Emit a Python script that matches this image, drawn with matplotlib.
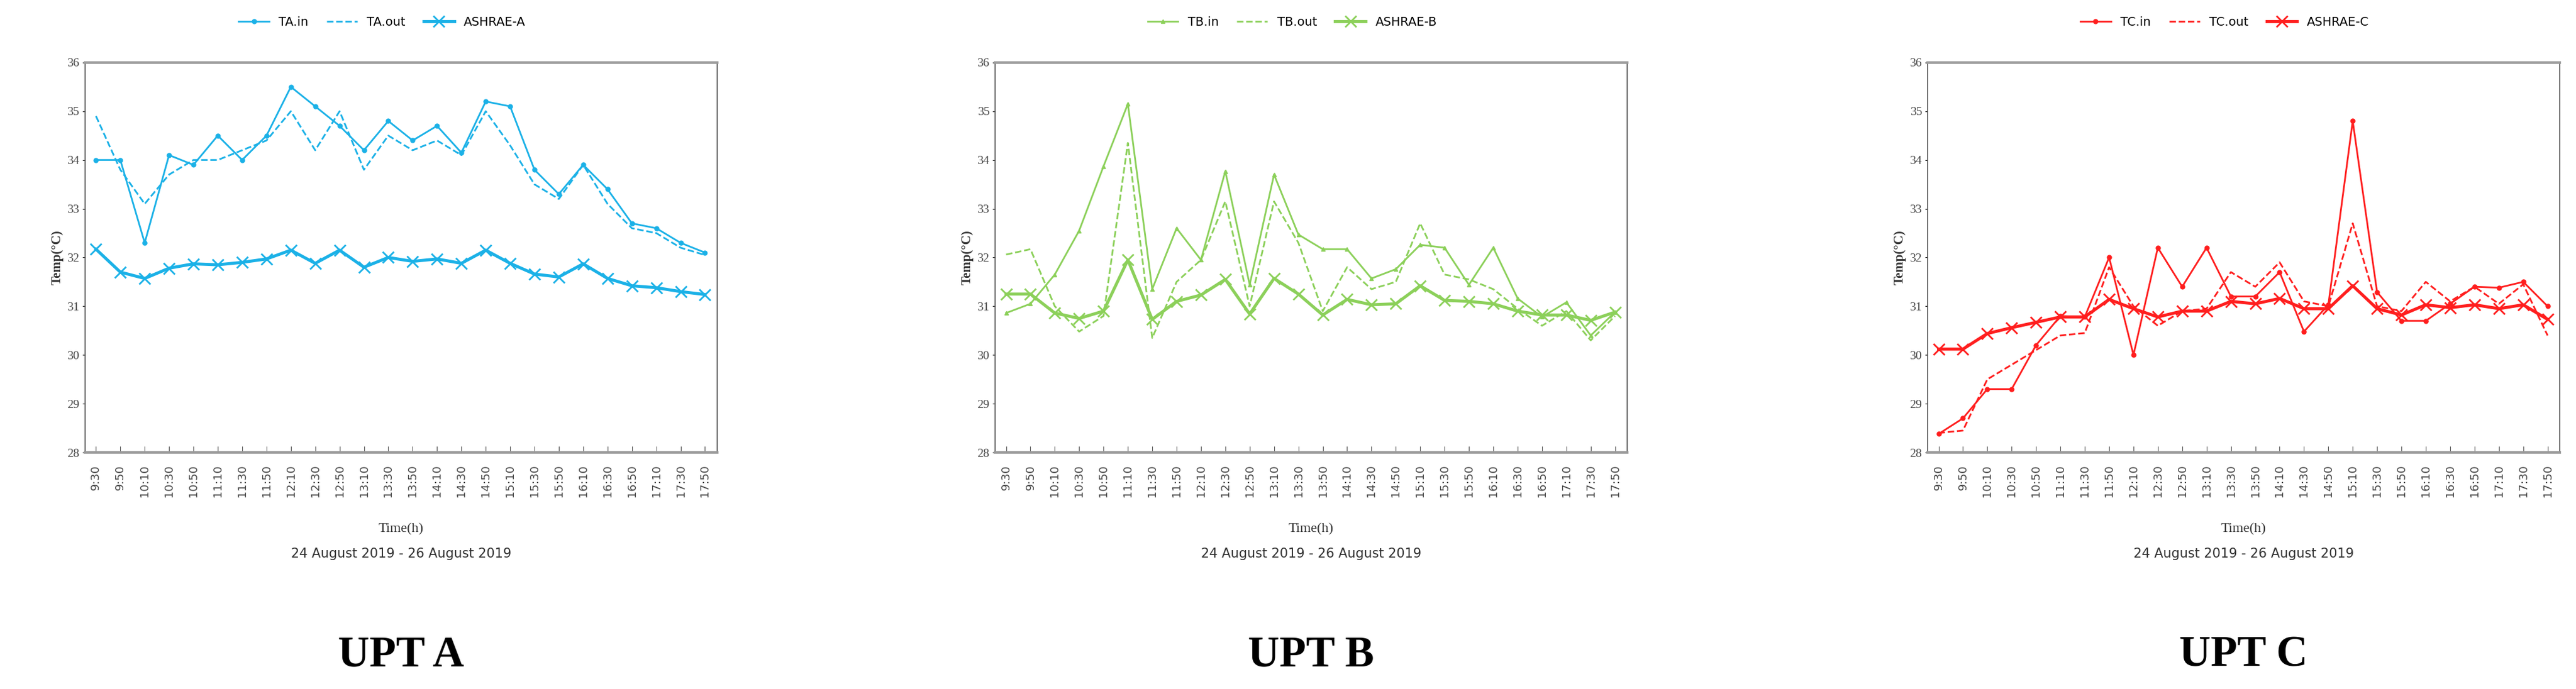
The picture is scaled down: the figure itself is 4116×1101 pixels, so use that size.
import numpy as np
from matplotlib import pyplot as plt

# horas de medida (cada 20 min)
times = ['9:30', '9:50', '10:10', '10:30', '10:50', '11:10', '11:30', '11:50', '12:10',
         '12:30', '12:50', '13:10', '13:30', '13:50', '14:10', '14:30', '14:50', '15:10',
         '15:30', '15:50', '16:10', '16:30', '16:50', '17:10', '17:30', '17:50']

ta_in = [34.0, 34.0, 32.3, 34.1, 33.9, 34.5, 34.0, 34.5, 35.5, 35.1, 34.7, 34.2, 34.8,
         34.4, 34.7, 34.15, 35.2, 35.1, 33.8, 33.3, 33.9, 33.4, 32.7, 32.6, 32.3, 32.1]
ta_out = [34.9, 33.8, 33.1, 33.7, 34.0, 34.0, 34.2, 34.4, 35.0, 34.2, 35.0, 33.8, 34.5,
          34.2, 34.4, 34.1, 35.0, 34.3, 33.5, 33.2, 33.9, 33.1, 32.6, 32.5, 32.2, 32.05]
ashrae_a = [32.17, 31.7, 31.57, 31.78, 31.87, 31.85, 31.9, 31.97, 32.15, 31.88, 32.15, 31.8, 32.0,
            31.92, 31.97, 31.88, 32.15, 31.88, 31.66, 31.6, 31.87, 31.57, 31.42, 31.38, 31.3, 31.24]

tb_in = [30.86, 31.05, 31.65, 32.55, 33.87, 35.15, 31.35, 32.6, 31.95, 33.77, 31.44, 33.7, 32.47,
         32.17, 32.17, 31.57, 31.76, 32.26, 32.2, 31.44, 32.2, 31.16, 30.78, 31.08, 30.4, 30.88]
tb_out = [32.06, 32.17, 31.0, 30.48, 30.8, 34.35, 30.35, 31.5, 31.95, 33.15, 31.0, 33.15, 32.3,
          30.9, 31.8, 31.35, 31.5, 32.7, 31.65, 31.55, 31.35, 30.95, 30.6, 30.9, 30.3, 30.8]
ashrae_b = [31.25, 31.25, 30.86, 30.75, 30.9, 31.95, 30.73, 31.1, 31.23, 31.55, 30.84, 31.57, 31.25,
            30.82, 31.14, 31.03, 31.05, 31.42, 31.12, 31.1, 31.05, 30.9, 30.82, 30.82, 30.71, 30.88]

tc_in = [28.38, 28.7, 29.3, 29.3, 30.2, 30.8, 30.78, 32.0, 30.0, 32.2, 31.4, 32.2, 31.2,
         31.2, 31.7, 30.48, 31.03, 34.8, 31.29, 30.7, 30.7, 31.05, 31.4, 31.38, 31.5, 31.0]
tc_out = [28.4, 28.45, 29.5, 29.8, 30.1, 30.4, 30.45, 31.8, 31.0, 30.6, 30.9, 30.95, 31.7,
          31.4, 31.9, 31.1, 31.0, 32.7, 31.0, 30.9, 31.5, 31.1, 31.4, 31.05, 31.45, 30.4]
ashrae_c = [30.12, 30.12, 30.44, 30.56, 30.67, 30.78, 30.78, 31.14, 30.95, 30.78, 30.9, 30.9, 31.1,
            31.05, 31.16, 30.95, 30.95, 31.42, 30.95, 30.82, 31.03, 30.97, 31.03, 30.95, 31.03, 30.73]

panels = [
    ('A', '#1BB1E7', 'o', ta_in, ta_out, ashrae_a, 0.033),
    ('B', '#8CD05A', '^', tb_in, tb_out, ashrae_b, 0.3863),
    ('C', '#FF1E1E', 'o', tc_in, tc_out, ashrae_c, 0.7483),
]

fig = plt.figure(figsize=(41.16, 11.01), dpi=100)
x = np.arange(len(times))

for name, col, mk, t_in, t_out, ash, left in panels:
    ax = fig.add_axes([left, 0.3433, 0.2454, 0.566])
    ax.plot(x, t_in, color=col, lw=2, marker=mk, ms=5, label='T%s.in' % name)
    ax.plot(x, t_out, color=col, lw=2, ls='--', label='T%s.out' % name)
    ax.plot(x, ash, color=col, lw=3.5, marker='x', ms=13, mew=2, label='ASHRAE-%s' % name)
    ax.set_xlim(-0.45, 25.5)
    ax.set_ylim(28, 36)
    ax.set_yticks(range(28, 37))
    ax.tick_params(axis='y', labelsize=14, length=3, direction='out', labelcolor='#444444')
    for lab in ax.get_yticklabels():
        lab.set_family('Liberation Serif')
    ax.set_xticks(x)
    ax.set_xticklabels(times, rotation=90, fontsize=13, color='#444444')
    ax.tick_params(axis='x', direction='in', length=7, color='#555555', pad=14)
    for s in ['top', 'bottom']:
        ax.spines[s].set_color('#9a9a9a')
        ax.spines[s].set_linewidth(3)
    for s in ['left', 'right']:
        ax.spines[s].set_color('#555555')
        ax.spines[s].set_linewidth(1.2)
    ax.set_ylabel('Temp(°C)', fontsize=15, fontweight='bold', family='Liberation Serif', color='#333333')
    ax.set_xlabel('Time(h)', fontsize=16, color='#333333', family='Liberation Serif', labelpad=30)
    ax.text(0.5, -0.26, '24 August 2019 - 26 August 2019', transform=ax.transAxes,
            ha='center', va='center', fontsize=15, color='#333333')
    ax.text(0.5, -0.52, 'UPT %s' % name, transform=ax.transAxes, ha='center', va='center',
            fontsize=50, fontweight='bold', family='Liberation Serif')
    ax.legend(loc='lower center', bbox_to_anchor=(0.47, 1.06), ncol=3, frameon=False,
              fontsize=14, handlelength=2.5, columnspacing=1.5)

plt.savefig('out.png')
plt.close()
